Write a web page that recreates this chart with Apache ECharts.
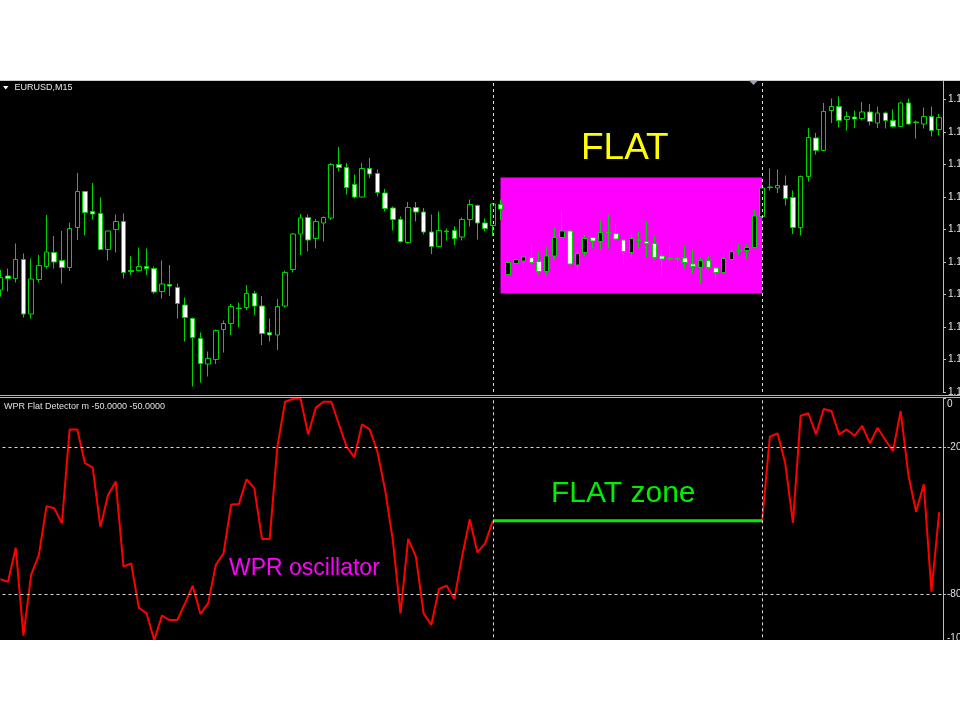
<!DOCTYPE html>
<html>
<head>
<meta charset="utf-8">
<script src="https://cdn.jsdelivr.net/npm/echarts@6/dist/echarts.min.js"></script>
<style>html,body{margin:0;padding:0;background:#fff}#c{width:960px;height:720px}</style>
</head>
<body>
<div id="c"></div>
<script>
// EURUSD M15 candles: [open, close, low, high]
const ohlc = [
[1.11204,1.11229,1.11191,1.11244],[1.11232,1.11227,1.11201,1.11247],[1.11227,1.11265,1.11219,1.11297],[1.11265,1.11156,1.11149,1.11277],
[1.11156,1.11226,1.11147,1.11267],[1.11225,1.11253,1.11219,1.11274],[1.11251,1.11280,1.11247,1.11354],[1.11279,1.11260,1.11247,1.11312],
[1.11263,1.11249,1.11217,1.11322],[1.11249,1.11327,1.11242,1.11339],[1.11329,1.11401,1.11304,1.11438],[1.11401,1.11359,1.11313,1.11402],
[1.11361,1.11356,1.11345,1.11418],[1.11357,1.11285,1.11285,1.11389],[1.11285,1.11322,1.11263,1.11323],[1.11325,1.11341,1.11279,1.11355],
[1.11341,1.11239,1.11227,1.11357],[1.11243,1.11241,1.11234,1.11272],[1.11243,1.11251,1.11241,1.11289],[1.11251,1.11247,1.11234,1.11287],
[1.11247,1.11200,1.11196,1.11251],[1.11201,1.11216,1.11187,1.11263],[1.11215,1.11212,1.11192,1.11254],[1.11209,1.11177,1.11147,1.11217],
[1.11174,1.11149,1.11101,1.11189],[1.11147,1.11109,1.11011,1.11149],[1.11107,1.11057,1.11019,1.11119],[1.11056,1.11067,1.11031,1.11081],
[1.11065,1.11123,1.11056,1.11125],[1.11125,1.11137,1.11079,1.11143],[1.11137,1.11171,1.11114,1.11176],[1.11168,1.11167,1.11129,1.11179],
[1.11169,1.11197,1.11164,1.11214],[1.11197,1.11172,1.11154,1.11202],[1.11172,1.11117,1.11094,1.11192],[1.11119,1.11114,1.11101,1.11147],
[1.11114,1.11171,1.11084,1.11186],[1.11172,1.11239,1.11169,1.11243],[1.11245,1.11316,1.11239,1.11318],[1.11316,1.11348,1.11274,1.11356],
[1.11349,1.11304,1.11281,1.11355],[1.11307,1.11341,1.11287,1.11346],[1.11338,1.11349,1.11301,1.11351],[1.11348,1.11455,1.11344,1.11458],
[1.11455,1.11449,1.11441,1.11490],[1.11449,1.11409,1.11395,1.11458],[1.11415,1.11390,1.11387,1.11435],[1.11390,1.11447,1.11389,1.11458],
[1.11447,1.11436,1.11428,1.11468],[1.11437,1.11399,1.11391,1.11445],[1.11398,1.11367,1.11361,1.11406],[1.11368,1.11345,1.11323,1.11371],
[1.11345,1.11301,1.11299,1.11351],[1.11299,1.11369,1.11297,1.11380],[1.11369,1.11360,1.11341,1.11380],[1.11360,1.11320,1.11315,1.11368],
[1.11320,1.11291,1.11276,1.11355],[1.11291,1.11323,1.11289,1.11361],[1.11322,1.11321,1.11303,1.11327],[1.11323,1.11307,1.11294,1.11331],
[1.11310,1.11345,1.11303,1.11349],[1.11345,1.11375,1.11331,1.11385],[1.11373,1.11338,1.11305,1.11375],[1.11338,1.11327,1.11321,1.11347],
[1.11333,1.11376,1.11312,1.11378],[1.11375,1.11366,1.11344,1.11385],[1.11235,1.11259,1.11234,1.11272],[1.11257,1.11265,1.11256,1.11267],
[1.11262,1.11270,1.11241,1.11271],[1.11269,1.11259,1.11254,1.11295],[1.11261,1.11241,1.11235,1.11282],[1.11241,1.11272,1.11233,1.11291],
[1.11272,1.11309,1.11264,1.11330],[1.11309,1.11322,1.11307,1.11361],[1.11322,1.11256,1.11254,1.11326],[1.11254,1.11277,1.11239,1.11287],
[1.11279,1.11307,1.11271,1.11314],[1.11309,1.11302,1.11287,1.11310],[1.11301,1.11319,1.11284,1.11343],[1.11318,1.11319,1.11287,1.11355],
[1.11317,1.11306,1.11304,1.11335],[1.11304,1.11281,1.11257,1.11305],[1.11279,1.11307,1.11269,1.11321],[1.11303,1.11304,1.11287,1.11321],
[1.11301,1.11297,1.11269,1.11341],[1.11297,1.11269,1.11265,1.11312],[1.11272,1.11266,1.11232,1.11285],[1.11267,1.11266,1.11261,1.11294],
[1.11267,1.11266,1.11247,1.11276],[1.11268,1.11259,1.11247,1.11292],[1.11256,1.11251,1.11237,1.11284],[1.11249,1.11263,1.11217,1.11269],
[1.11263,1.11249,1.11244,1.11272],[1.11248,1.11239,1.11225,1.11254],[1.11239,1.11267,1.11237,1.11279],[1.11265,1.11281,1.11264,1.11294],
[1.11282,1.11283,1.11274,1.11297],[1.11283,1.11289,1.11267,1.11296],[1.11289,1.11352,1.11287,1.11364],[1.11351,1.11408,1.11350,1.11411],
[1.11409,1.11410,1.11403,1.11447],[1.11408,1.11413,1.11398,1.11445],[1.11413,1.11387,1.11373,1.11433],[1.11389,1.11329,1.11316,1.11403],
[1.11329,1.11431,1.11313,1.11433],[1.11431,1.11509,1.11421,1.11528],[1.11508,1.11483,1.11475,1.11518],[1.11483,1.11561,1.11482,1.11578],
[1.11563,1.11571,1.11538,1.11587],[1.11571,1.11543,1.11529,1.11591],[1.11545,1.11551,1.11523,1.11561],[1.11550,1.11546,1.11528,1.11563],
[1.11547,1.11560,1.11543,1.11580],[1.11560,1.11541,1.11533,1.11576],[1.11538,1.11558,1.11528,1.11571],[1.11558,1.11543,1.11527,1.11561],
[1.11543,1.11531,1.11529,1.11565],[1.11531,1.11578,1.11530,1.11580],[1.11578,1.11536,1.11535,1.11587],[1.11540,1.11539,1.11507,1.11543],
[1.11536,1.11551,1.11527,1.11569],[1.11551,1.11523,1.11511,1.11571],[1.11525,1.11549,1.11513,1.11556]
];

// WPR oscillator values before the flat zone (candles 0..64)
const wprBefore = [-73.8,-74.9,-61.0,-96.9,-72.1,-64.0,-44.0,-44.9,-51.0,-12.7,-12.7,-26.5,-28.3,-52.4,-39.5,-34.0,
-68.7,-67.4,-85.5,-87.8,-98.7,-88.7,-90.5,-90.5,-83.7,-76.5,-88.0,-83.7,-68.0,-63.3,-43.3,-43.1,-33.1,-36.7,-57.4,-57.4,
-19.7,-1.4,-0.3,0,-14.7,-3.8,-1.4,-1.4,-10.6,-19.7,-24.1,-10.6,-12.7,-21.8,-37.4,-57.8,-87.8,-57.4,-64.6,-87.8,-92.5,
-77.8,-76.5,-81.9,-64.6,-49.4,-62.9,-59.2,-50];
// WPR oscillator values after the flat zone (candles 99..122)
const wprAfter = [-50,-15.7,-14.3,-26.5,-50.8,-7.1,-6.1,-14.7,-4.4,-5.2,-14.7,-12.7,-15.3,-11.2,-18.4,-12.0,-17.0,-21.5,
-5.2,-31.3,-46.3,-35.1,-78.9,-46.5];

const flatStart = 64;        // candle index where the flat zone starts
const flatEnd = 99;          // candle index where the flat zone ends
const flatLevel = -50;       // WPR flat line level
const flatBoxFrom = 65, flatBoxTo = 99;
const flatBoxTop = 1.11429, flatBoxBottom = 1.11197;
const wprLevels = [-20, -80];
const wprTicks = [0, -20, -80, -100];
const priceMin = 1.11, priceMax = 1.11622, priceStep = 0.00065;

const categories = ohlc.map((_, i) => String(i));
const wpr = categories.map((_, i) => i <= flatStart ? wprBefore[i] : (i >= flatEnd ? wprAfter[i - flatEnd] : null));
const flatLine = categories.map((_, i) => (i >= flatStart && i <= flatEnd) ? flatLevel : null);

const GREEN = '#00d400';
const FONT = 'Liberation Sans';
const LBL = '#dde2ea';
const GL = -3.5, GR = 17;

const chart = echarts.init(document.getElementById('c'), null, {renderer: 'canvas'});
const option = {
  animation: false,
  backgroundColor: '#000000',
  grid: [
    {left: GL, right: GR, top: 81, bottom: 328, outerBoundsMode: 'none', containLabel: false},
    {left: GL, right: GR, top: 398.3, bottom: 76.7, outerBoundsMode: 'none', containLabel: false}
  ],
  xAxis: [
    {type: 'category', gridIndex: 0, data: categories, boundaryGap: true, show: false},
    {type: 'category', gridIndex: 1, data: categories, boundaryGap: true, show: false}
  ],
  yAxis: [
    {
      type: 'value', gridIndex: 0, position: 'right', min: priceMin, max: priceMax, interval: priceStep,
      splitLine: {show: false},
      axisLine: {show: true, lineStyle: {color: '#bdbdbd', width: 1}},
      axisTick: {show: true, length: 3, lineStyle: {color: '#bdbdbd'}},
      axisLabel: {color: LBL, fontSize: 10, fontFamily: FONT, margin: 5, showMaxLabel: false,
        formatter: v => v.toFixed(5)}
    },
    {
      type: 'value', gridIndex: 1, position: 'right', min: -100, max: 0, interval: 20,
      splitLine: {show: false},
      axisLine: {show: true, lineStyle: {color: '#bdbdbd', width: 1}},
      axisTick: {show: true, length: 3, customValues: wprTicks, lineStyle: {color: '#bdbdbd'}},
      axisLabel: {
        color: LBL, fontSize: 10, fontFamily: FONT, margin: 4, customValues: wprTicks,
        formatter: v => v === 0 ? '{t|0}' : (v === -100 ? '{b|-100}' : String(v)),
        rich: {
          t: {padding: [12, 0, 0, 0], color: LBL, fontSize: 10, fontFamily: FONT},
          b: {padding: [0, 0, 11, 0], color: LBL, fontSize: 10, fontFamily: FONT}
        }
      }
    }
  ],
  series: [
    {
      type: 'candlestick', xAxisIndex: 0, yAxisIndex: 0, data: ohlc, barWidth: 5,
      itemStyle: {color: '#000000', color0: '#ffffff', borderColor: GREEN, borderColor0: GREEN, borderColorDoji: GREEN, borderWidth: 1},
      markArea: {
        silent: true,
        itemStyle: {color: '#ff00ff', opacity: 1},
        data: [[{xAxis: flatBoxFrom, yAxis: flatBoxTop}, {xAxis: flatBoxTo, yAxis: flatBoxBottom}]]
      },
      markLine: {
        silent: true, symbol: ['none', 'none'], label: {show: false},
        lineStyle: {type: [3, 3], color: '#e0e0e0', width: 1},
        data: [{xAxis: flatStart}, {xAxis: flatEnd}]
      }
    },
    {
      type: 'line', xAxisIndex: 1, yAxisIndex: 1, data: wpr, showSymbol: false, symbol: 'none', connectNulls: false,
      lineStyle: {color: '#ff0000', width: 2},
      markLine: {
        silent: true, symbol: ['none', 'none'], label: {show: false},
        lineStyle: {type: [3, 3], color: '#d8d8d8', width: 1},
        data: [{yAxis: wprLevels[0]}, {yAxis: wprLevels[1]}, {xAxis: flatStart}, {xAxis: flatEnd}]
      }
    },
    {
      type: 'line', xAxisIndex: 1, yAxisIndex: 1, data: flatLine, showSymbol: false, symbol: 'none', connectNulls: false,
      lineStyle: {color: '#00ee00', width: 3}
    }
  ],
  graphic: [
    {type: 'rect', z: 100, shape: {x: 0, y: 0, width: 960, height: 80}, style: {fill: '#ffffff'}},
    {type: 'rect', z: 100, shape: {x: 0, y: 640, width: 960, height: 80}, style: {fill: '#ffffff'}},
    {type: 'line', z: 100, shape: {x1: 0, y1: 80.5, x2: 960, y2: 80.5}, style: {stroke: '#cfcfcf', lineWidth: 1}},
    {type: 'line', z: 100, shape: {x1: 0, y1: 395.5, x2: 960, y2: 395.5}, style: {stroke: '#b4b4b4', lineWidth: 1}},
    {type: 'line', z: 100, shape: {x1: 0, y1: 397.5, x2: 960, y2: 397.5}, style: {stroke: '#b4b4b4', lineWidth: 1}},
    {type: 'polygon', z: 100, shape: {points: [[3, 86], [8.5, 86], [5.75, 89.5]]}, style: {fill: '#ffffff'}},
    {type: 'polygon', z: 100, shape: {points: [[749, 80.5], [758, 80.5], [753.5, 85]]}, style: {fill: '#9aa0b0'}},
    {type: 'text', z: 100, x: 14.5, y: 87.3, style: {text: 'EURUSD,M15', fill: '#e8e8e8', fontSize: 9, fontFamily: FONT, verticalAlign: 'middle'}},
    {type: 'text', z: 100, x: 4, y: 406.7, style: {text: 'WPR Flat Detector m -50.0000 -50.0000', fill: '#e0e0e0', fontSize: 9, fontFamily: FONT, verticalAlign: 'middle'}},
    {type: 'text', z: 100, x: 581, y: 149, style: {text: 'FLAT', fill: '#ffff00', fontSize: 37, fontFamily: FONT, verticalAlign: 'middle'}},
    {type: 'text', z: 100, x: 551, y: 494, style: {text: 'FLAT zone', fill: '#00ee00', fontSize: 30, fontFamily: FONT, verticalAlign: 'middle'}},
    {type: 'text', z: 100, x: 229, y: 568.7, style: {text: 'WPR oscillator', fill: '#ff00ff', fontSize: 23, fontFamily: FONT, verticalAlign: 'middle'}}
  ]
};
chart.setOption(option);
</script>
</body>
</html>
